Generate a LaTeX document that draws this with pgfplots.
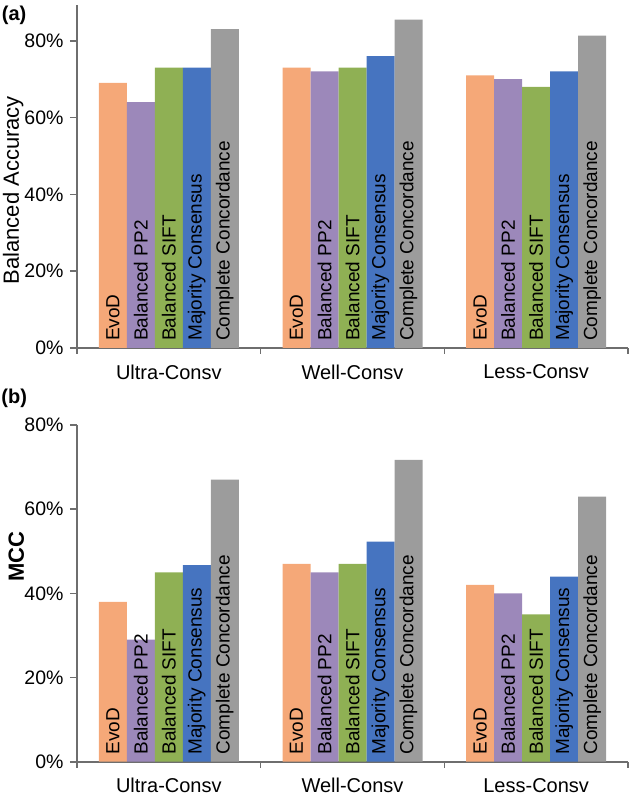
\documentclass[border=0pt]{standalone}
\usepackage{pgfplots}
\pgfplotsset{compat=1.18}
\usepackage{fontspec}
\setmainfont{Liberation Sans}
\definecolor{cEvo}{RGB}{245,168,120}
\definecolor{cPP}{RGB}{156,136,186}
\definecolor{cSIFT}{RGB}{143,176,84}
\definecolor{cMaj}{RGB}{70,116,192}
\definecolor{cComp}{RGB}{156,156,156}
\definecolor{axgray}{RGB}{110,110,110}
\newcommand\grouplabels[1]{%
 \node[lbl] at ([xshift=-56pt,yshift=7pt]axis cs:#1,0) {EvoD};
 \node[lbl] at ([xshift=-28pt,yshift=7pt]axis cs:#1,0) {Balanced PP2};
 \node[lbl] at ([xshift=0pt,yshift=7pt]axis cs:#1,0) {Balanced SIFT};
 \node[lbl] at ([xshift=28pt,yshift=7pt]axis cs:#1,0) {Majority Consensus};
 \node[lbl] at ([xshift=56pt,yshift=7pt]axis cs:#1,0) {Complete Concordance};
}
\begin{document}
\begin{tikzpicture}
\tikzset{lbl/.style={rotate=90, anchor=west, inner sep=0pt, font=\fontsize{19}{21}\selectfont}}
\pgfplotsset{
 common/.style={
  scale only axis, width=551pt,
  xmin=-0.5, xmax=2.5, ymin=0,
  axis x line*=bottom, axis y line*=left,
  axis line style={draw=axgray, line width=1.6pt, -},
  ybar=0pt, bar width=28pt,
  xtick={0,1,2},
  xticklabels={Ultra-Consv, Well-Consv, Less-Consv},
  major x tick style={draw=none},
  minor xtick={-0.5,0.5,1.5,2.5},
  minor x tick style={draw=axgray, line width=1.6pt},
  minor tick length=6pt,
  major tick length=7pt,
  tick align=outside,
  y tick style={draw=axgray, line width=1.6pt},
  ytick={0,20,40,60,80},
  yticklabel={\pgfmathprintnumber{\tick}\%},
  /pgf/number format/assume math mode=true,
  xticklabel style={yshift=-6pt, font=\fontsize{20}{22}\selectfont},
  yticklabel style={xshift=-3pt, font=\fontsize{19.5}{21}\selectfont},
  every axis y label/.style={rotate=90, anchor=center, font=\fontsize{22}{24}\selectfont},
  clip=false,
 }
}
\path[use as bounding box] (-77pt,-451pt) rectangle (556pt,348pt);
\begin{axis}[common, height=343pt, ymax=89.3,
  ylabel={Balanced Accuracy},
  every axis y label/.append style={at={(axis description cs:-0.116,0.46)}}]
\addplot[fill=cEvo, draw=none] coordinates {(0,69) (1,73) (2,71)};
\addplot[fill=cPP, draw=none] coordinates {(0,64) (1,72) (2,70)};
\addplot[fill=cSIFT, draw=none] coordinates {(0,73) (1,73) (2,68)};
\addplot[fill=cMaj, draw=none] coordinates {(0,73) (1,76) (2,72)};
\addplot[fill=cComp, draw=none] coordinates {(0,83) (1,85.5) (2,81.3)};
\grouplabels{0}
\grouplabels{1}
\grouplabels{2}
\node[font=\bfseries\fontsize{20}{22}\selectfont] at (axis description cs:-0.114,0.971) {(a)};
\end{axis}
\begin{axis}[common, at={(0,-413.7pt)}, height=336.7pt, ymax=80,
  ylabel={\bfseries MCC},
  every axis y label/.append style={at={(axis description cs:-0.110,0.61)}}]
\addplot[fill=cEvo, draw=none] coordinates {(0,38) (1,47) (2,42)};
\addplot[fill=cPP, draw=none] coordinates {(0,29) (1,45) (2,40)};
\addplot[fill=cSIFT, draw=none] coordinates {(0,45) (1,47) (2,35)};
\addplot[fill=cMaj, draw=none] coordinates {(0,46.7) (1,52.3) (2,44)};
\addplot[fill=cComp, draw=none] coordinates {(0,67) (1,71.7) (2,63)};
\grouplabels{0}
\grouplabels{1}
\grouplabels{2}
\node[font=\bfseries\fontsize{20}{22}\selectfont] at (axis description cs:-0.114,1.08) {(b)};
\end{axis}
\end{tikzpicture}
\end{document}
